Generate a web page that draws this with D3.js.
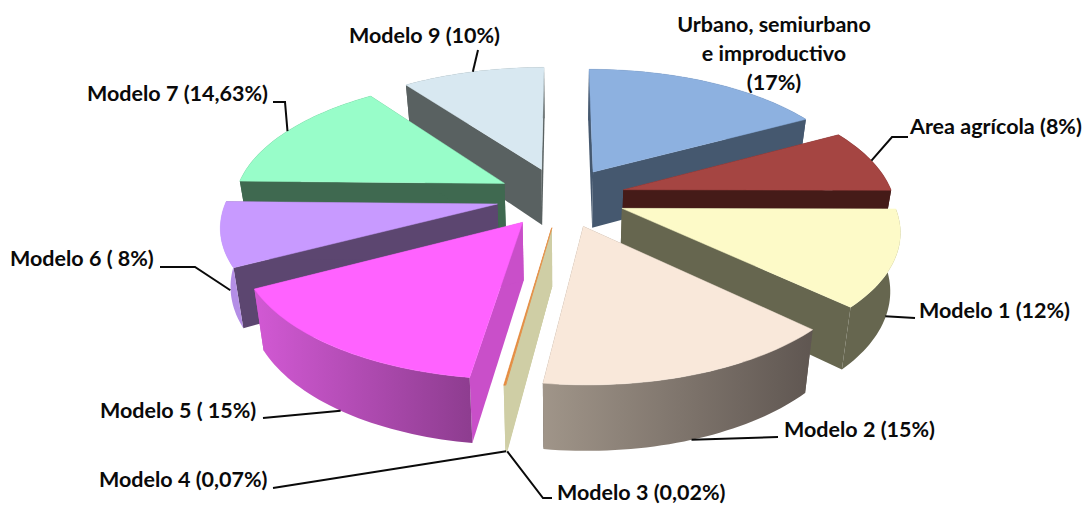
<!DOCTYPE html>
<html>
<head>
<meta charset="utf-8">
<script src="https://d3js.org/d3.v7.min.js"></script>
<style>
  html, body { margin: 0; padding: 0; background: #fff; }
  text { font-family: Lato, "Open Sans", sans-serif; font-weight: 700; font-size: 21.5px; fill: #0a0a0a; }
</style>
</head>
<body>
<div id="chart"></div>
<script>
var categories = ["Urbano", "Area agricola", "Modelo 1", "Modelo 2", "Modelo 3", "Modelo 4", "Modelo 5", "Modelo 6", "Modelo 7", "Modelo 9"];
var values = [17, 8, 12, 15, 0.02, 0.07, 15, 8, 14.63, 10];
var labels = [
  ["Urbano, semiurbano", "e improductivo", "(17%)"],
  ["Area agrícola (8%)"],
  ["Modelo  1 (12%)"],
  ["Modelo 2 (15%)"],
  ["Modelo 3 (0,02%)"],
  ["Modelo 4 (0,07%)"],
  ["Modelo 5 ( 15%)"],
  ["Modelo 6 ( 8%)"],
  ["Modelo 7 (14,63%)"],
  ["Modelo 9 (10%)"]
];

// colours per slice
var topColors = ["#8db1e0", "#a54542", "#fdfac8", "#f9e8da", "#e8893c", "#e8893c", "#ff62ff", "#c89aff", "#98fdc9", "#d8e8f1"];
var cutColors = ["#45586f", "#451b18", "#66664f", "#635a55", "#cfcea5", "#cfcea5", "#c94fc9", "#5c4670", "#3f6950", "#596161"];
var wallFrom  = ["#45586f", "#451b18", "#66664f", "#a09589", "#cfcea5", "#cfcea5", "#d259d4", "#b48ee6", "#3f6950", "#596161"];
var wallTo    = ["#45586f", "#451b18", "#66664f", "#5f5651", "#cfcea5", "#cfcea5", "#8e3d90", "#b48ee6", "#3f6950", "#596161"];

// back to front
var drawOrder = [9, 8, 7, 6, 0, 1, 2, 3, 5, 4];

var width = 1088;
var height = 505;
var cx = 561;
var cy = 197;
var rx = 270;
var ry = 125;
var depth = 57;
var explode = 0.24;
var persp = 0.15;
var rotation = 0;

var svg = d3.select("#chart").append("svg")
  .attr("width", width)
  .attr("height", height)
  .style("display", "block");
var defs = svg.append("defs");

var pie = d3.pie().sort(null).startAngle(rotation).endAngle(rotation + 2 * Math.PI);
var arcs = pie(values);

// floor of the pie -> screen, r in radius units, h = 0 top face, 1 bottom face
function project(d, angle, r, h) {
  var mid = (d.startAngle + d.endAngle) / 2;
  var X = r * Math.sin(angle) + explode * Math.sin(mid);
  var Z = -r * Math.cos(angle) - explode * Math.cos(mid);
  var p = 1 / (1 - persp * Z);
  var shrink = 1 - 0.03 * h;
  return [
    cx + X * rx * p * shrink,
    cy + Z * ry * p + h * depth * (1 + (p - 1) * 0.7)
  ];
}

function rimAngles(d) {
  var n = Math.max(2, Math.ceil((d.endAngle - d.startAngle) * 40));
  return d3.range(n + 1).map(function(i) {
    return d.startAngle + (d.endAngle - d.startAngle) * i / n;
  });
}

var line = d3.line();

function cutFace(d, angle) {
  return [project(d, 0, 0, 0), project(d, angle, 1, 0), project(d, angle, 1, 1), project(d, 0, 0, 1)];
}

var slices = svg.append("g").selectAll("g")
  .data(drawOrder)
  .enter().append("g")
    .attr("class", function(i) { return "slice s" + i; });

slices.each(function(i) {
  var d = arcs[i];
  var g = d3.select(this);
  var rim = rimAngles(d);
  var topRim = rim.map(function(a) { return project(d, a, 1, 0); });
  var botRim = rim.map(function(a) { return project(d, a, 1, 1); });

  var grad = defs.append("linearGradient")
    .attr("id", "wall" + i)
    .attr("gradientUnits", "userSpaceOnUse")
    .attr("x1", d3.min(topRim, function(p) { return p[0]; }))
    .attr("x2", d3.max(topRim, function(p) { return p[0]; }))
    .attr("y1", 0).attr("y2", 0);
  grad.append("stop").attr("offset", 0).attr("stop-color", wallFrom[i]);
  grad.append("stop").attr("offset", 1).attr("stop-color", wallTo[i]);

  [d.startAngle, d.endAngle].forEach(function(a) {
    g.append("path")
      .attr("d", line(cutFace(d, a)) + "Z")
      .attr("fill", cutColors[i]);
  });

  g.append("path")
    .attr("d", line(topRim.concat(botRim.slice().reverse())) + "Z")
    .attr("fill", "url(#wall" + i + ")");

  g.append("path")
    .attr("d", line([project(d, 0, 0, 0)].concat(topRim)) + "Z")
    .attr("fill", topColors[i])
    .attr("stroke", topColors[i])
    .attr("stroke-width", 0.5);
});

// label placement, same order as categories
var labelX = [774, 910, 919, 784, 557, 99, 100, 10, 87, 349];
var labelY = [32, 134, 318, 437, 500, 487, 418, 266, 101, 43];
var labelAnchor = ["middle", "start", "start", "start", "start", "start", "start", "start", "start", "start"];
var lineStep = 29;

// leader lines: how far down the outer wall it starts, then the bends towards the label
var leaderH = [null, 0, 0.95, 1, 1, 1, 1, 0.95, 0, 0];
var leaderBends = [
  null,
  [[892, 137], [908, 137]],
  [[915, 318]],
  [[778, 437]],
  [[543, 498], [552, 498]],
  [[273, 488]],
  [[263, 418]],
  [[195, 267], [160, 267]],
  [[285, 102], [273, 102]],
  [[478, 50]]
];

var leaders = svg.append("g");
categories.forEach(function(c, i) {
  if (!leaderBends[i]) return;
  var d = arcs[i];
  var start = project(d, (d.startAngle + d.endAngle) / 2, 1, leaderH[i]);
  leaders.append("path")
    .attr("d", line([start].concat(leaderBends[i])))
    .attr("fill", "none")
    .attr("stroke", "#0a0a0a")
    .attr("stroke-width", 2);
});

var text = svg.append("g");
labels.forEach(function(lines, i) {
  lines.forEach(function(t, j) {
    text.append("text")
      .attr("x", labelX[i])
      .attr("y", labelY[i] + j * lineStep)
      .attr("text-anchor", labelAnchor[i])
      .text(t);
  });
});
</script>
</body>
</html>
